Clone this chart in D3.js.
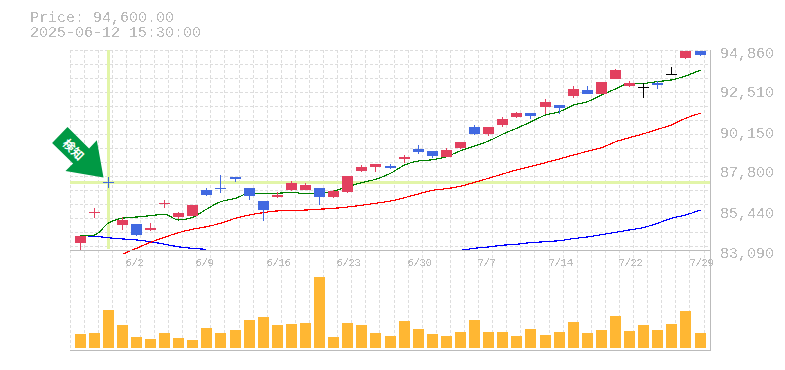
<!DOCTYPE html>
<html>
<head>
<meta charset="utf-8">
<script src="https://cdn.jsdelivr.net/npm/d3@7"></script>
<style>
  html, body { margin: 0; padding: 0; background: #fff; overflow: hidden; }
  text { font-family: "Liberation Mono", monospace; fill: #bbb; }
</style>
</head>
<body>
<svg id="chart" width="785" height="370">
  <defs>
    <!-- hard alpha edge, the original labels have no font smoothing -->
    <filter id="aliased" x="0" y="0" width="100%" height="100%" color-interpolation-filters="sRGB">
      <feComponentTransfer>
        <feFuncA type="discrete" tableValues="0 1"></feFuncA>
      </feComponentTransfer>
    </filter>
  </defs>
</svg>
<script>
const titleLines = ['Price: 94,600.00', '2025-06-12 15:30:00'];

const priceTicks = [94860, 92510, 90150, 87800, 85440, 83090];
const dateLabels = {4: '6/2', 9: '6/9', 14: '6/16', 19: '6/23', 24: '6/30', 29: '7/7', 34: '7/14', 39: '7/22', 44: '7/29'};

const opens = [83500,85240,87090,84560,84620,84270,85770,85030,85090,86620,86710,87390,86740,85970,86210,86620,86620,86740,86210,86500,87740,87970,88030,88450,89030,88920,88560,89090,90330,89920,90450,90920,91150,91510,91620,92150,92510,92270,93150,92740,92680,92920,93420,94390,94800];
const highs = [83910,85560,87390,85030,84620,84680,86030,85330,85740,86740,87500,87390,86740,85970,86500,87150,87030,86740,86620,87450,88090,88150,88150,88680,89270,88920,89090,89450,90450,90330,90920,91210,91150,91980,91620,92740,92740,92980,93740,93040,92920,93040,93860,94830,94800];
const lows = [83030,84970,86740,84270,83910,84210,85560,84910,85090,86270,86440,87090,86030,84800,86150,86560,86620,85740,86150,86440,87680,87680,87860,88210,88740,88500,88560,89030,89860,89800,90330,90860,90800,91090,91090,92040,92270,92270,93150,92680,92040,92570,93390,94330,94510];
const closes = [83910,85300,87030,84860,83970,84390,85830,85270,85740,86330,86650,87270,86270,85440,86330,87030,86920,86210,86560,87450,87970,88150,87920,88560,88860,88620,88980,89450,89920,90330,90800,91150,90980,91800,91450,92570,92270,92980,93680,92920,92680,92800,93420,94800,94570];

const maShort = [83910,83970,84680,84960,85030,85110,85190,84860,85010,85490,85930,86130,86430,86430,86430,86490,86400,86430,86560,86820,87050,87250,87600,88090,88330,88400,88580,88930,89210,89500,89900,90250,90620,91030,91230,91620,91820,92210,92570,92900,92900,93000,93100,93330,93680];
const maMid = [null,null,null,82840,83190,83540,83840,84110,84310,84460,84660,84960,85150,85290,85390,85410,85440,85490,85540,85620,85720,85840,85970,86170,86390,86600,86700,86840,87070,87310,87560,87800,88000,88230,88450,88680,88900,89110,89460,89700,89930,90190,90450,90840,91140];
// the long average runs under the price axis in the middle, so it is not visible there
const maLong = [83930,83900,83810,83740,83680,83580,83430,83280,83190,83130,null,null,null,null,null,null,null,null,null,null,null,null,null,null,null,null,null,83070,83190,83270,83370,83430,83520,83580,83640,83760,83860,83990,84130,84270,84410,84660,84960,85150,85440];

const volumes = [14,15,38,23,11,9,15,10,8,20,15,18,28,31,23,24,25,71,11,25,23,15,12,27,19,14,12,16,28,16,16,12,19,13,16,26,15,18,32,17,23,18,24,37,15];

const crossIndex = 2;
const crossPrice = 87060;
const signalText = '検知';

const svg = d3.select('#chart');
const plot = {left: 70, right: 710, top: 50, mid: 250, bottom: 350, volBase: 348};

const xScale = d3.scaleLinear().domain([0, opens.length - 1]).range([80.5, 700.5]);
const x = i => Math.floor(xScale(i) - 0.5 + 1e-6) + 0.5;
const y = d3.scaleLinear().domain([83090, 94860]).range([plot.mid, plot.top]);
const yVol = d3.scaleLinear().domain([0, d3.max(volumes)]).range([plot.volBase, plot.volBase - 71]);
const xGrid = d3.scaleLinear().domain([0, 45]).range([plot.left, 704]);

// grid
const grid = svg.append('g')
  .attr('stroke', '#ddd')
  .attr('stroke-dasharray', '3,2')
  .attr('shape-rendering', 'crispEdges');

grid.selectAll('.v')
  .data(d3.range(0, 46))
  .enter().append('line')
  .attr('x1', d => Math.floor(xGrid(d)) + 0.5)
  .attr('x2', d => Math.floor(xGrid(d)) + 0.5)
  .attr('y1', plot.top)
  .attr('y2', plot.bottom);

grid.selectAll('.h')
  .data(d3.range(0, 15))
  .enter().append('line')
  .attr('x1', plot.left)
  .attr('x2', plot.right)
  .attr('y1', d => plot.top + 0.5 + d * 14)
  .attr('y2', d => plot.top + 0.5 + d * 14);

// crosshair
svg.append('rect')
  .attr('x', x(crossIndex) - 1.5)
  .attr('y', plot.top)
  .attr('width', 3)
  .attr('height', plot.mid - plot.top - 1)
  .attr('fill', '#e2f5a8');

svg.append('rect')
  .attr('x', plot.left)
  .attr('y', Math.round(y(crossPrice) - 1.5))
  .attr('width', plot.right - plot.left)
  .attr('height', 3)
  .attr('fill', '#e2f5a8');

// volume
svg.append('g')
  .selectAll('rect')
  .data(volumes)
  .enter().append('rect')
  .attr('x', (d, i) => x(i) - 5.5)
  .attr('y', d => yVol(d))
  .attr('width', 11)
  .attr('height', d => plot.volBase - yVol(d))
  .attr('fill', '#ffb733')
  .attr('shape-rendering', 'crispEdges');

// moving averages
const line = d3.line()
  .defined(d => d !== null)
  .x((d, i) => x(i))
  .y(d => y(d))
  .curve(d3.curveMonotoneX);

[[maLong, '#0000ff'], [maMid, '#ff0000'], [maShort, '#008000']].forEach(([values, color]) => {
  svg.append('path')
    .attr('d', line(values))
    .attr('fill', 'none')
    .attr('stroke', color)
    .attr('stroke-width', 1.2)
    .attr('shape-rendering', 'crispEdges');
});

// candles
const candleColor = i => closes[i] > opens[i] ? '#e2405f' : closes[i] < opens[i] ? '#4169e1' : '#000';

const candles = svg.append('g')
  .attr('shape-rendering', 'crispEdges')
  .selectAll('g')
  .data(d3.range(opens.length))
  .enter().append('g');

candles.append('line')
  .attr('x1', i => x(i))
  .attr('x2', i => x(i))
  .attr('y1', i => y(highs[i]))
  .attr('y2', i => y(lows[i]))
  .attr('stroke', candleColor);

candles.append('rect')
  .attr('x', i => x(i) - 5.5)
  .attr('y', i => Math.round(y(Math.max(opens[i], closes[i]))))
  .attr('width', 11)
  .attr('height', i => Math.max(1, Math.abs(y(opens[i]) - y(closes[i]))))
  .attr('fill', candleColor);

// axes
const axisLines = svg.append('g')
  .attr('stroke', '#bbb')
  .attr('shape-rendering', 'crispEdges');
[plot.mid, plot.bottom].forEach(v => {
  axisLines.append('line').attr('x1', plot.left).attr('x2', plot.right + 1).attr('y1', v + 0.5).attr('y2', v + 0.5);
});
axisLines.append('line').attr('x1', plot.right + 0.5).attr('x2', plot.right + 0.5).attr('y1', plot.top).attr('y2', plot.bottom);

const yAxis = d3.axisRight(y)
  .tickValues(priceTicks)
  .tickSize(0)
  .tickPadding(10)
  .tickFormat(d3.format(','));

svg.append('g')
  .attr('transform', `translate(${plot.right},0)`)
  .attr('filter', 'url(#aliased)')
  .call(yAxis)
  .call(g => g.select('.domain').remove())
  .selectAll('text')
  .attr('dy', 7)
  .style('font-size', '15px');

svg.append('g')
  .attr('filter', 'url(#aliased)')
  .selectAll('text')
  .data(Object.keys(dateLabels).map(Number))
  .enter().append('text')
  .attr('x', i => x(i) - 11)
  .attr('y', 266)
  .style('font-size', '11px')
  .style('letter-spacing', '-0.6px')
  .text(i => dateLabels[i]);

// title
svg.append('g')
  .attr('filter', 'url(#aliased)')
  .selectAll('text')
  .data(titleLines)
  .enter().append('text')
  .attr('x', 30)
  .attr('y', (d, i) => 22 + i * 15)
  .style('font-size', '15px')
  .text(d => d);

// signal arrow, tip sits just up-left of the crosshair point
const arrow = svg.append('g')
  .attr('transform', `translate(${x(crossIndex) - 5},${y(crossPrice) - 5})`);

arrow.append('path')
  .attr('d', 'M-36,-50.6L-14.4,-29L-6.7,-37.3L0,0L-38,-6.6L-30.4,-14L-51.4,-34.6Z')
  .attr('fill', '#009944');

arrow.append('text')
  .attr('transform', 'translate(-30,-28) rotate(45)')
  .attr('text-anchor', 'middle')
  .attr('dy', 4.5)
  .style('font-family', '"Noto Sans CJK JP"')
  .style('font-weight', 'bold')
  .style('font-size', '12px')
  .style('fill', '#fff')
  .text(signalText);
</script>
</body>
</html>
